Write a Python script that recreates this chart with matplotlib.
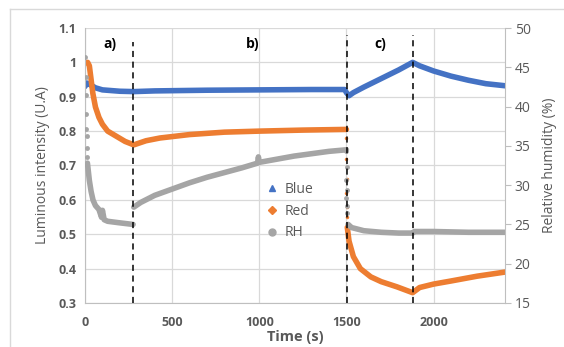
import numpy as np
import matplotlib
matplotlib.use("Agg")
import matplotlib.pyplot as plt
from matplotlib.lines import Line2D

plt.rcParams['font.family'] = ['Open Sans', 'DejaVu Sans']

# Blue (left axis)
blue_t = [0, 10, 30, 60, 100, 200, 280, 400, 700, 1000, 1300, 1490, 1500, 1515, 1540, 1600,
          1700, 1800, 1880, 1920, 2000, 2100, 2200, 2300, 2410]
blue_v = [0.930, 0.940, 0.935, 0.926, 0.920, 0.916, 0.915, 0.917, 0.919, 0.920, 0.921, 0.921,
          0.912, 0.903, 0.912, 0.928, 0.953, 0.978, 1.000, 0.990, 0.975, 0.960, 0.948, 0.938, 0.932]

# Red (left axis), NaN splits the two segments
red_t = [15, 25, 35, 45, 60, 80, 100, 130, 180, 230, 280, 350, 430, 600, 800, 1000, 1250, 1500,
         np.nan, 1505, 1515, 1540, 1580, 1640, 1700, 1790, 1880, 1920, 2000, 2100, 2250, 2410]
red_v = [1.000, 0.990, 0.950, 0.910, 0.870, 0.840, 0.820, 0.800, 0.785, 0.770, 0.760, 0.772,
         0.780, 0.790, 0.797, 0.800, 0.803, 0.805,
         np.nan, 0.520, 0.480, 0.435, 0.400, 0.376, 0.362, 0.347, 0.330, 0.345, 0.355, 0.364,
         0.378, 0.390]
red_jump_t = [1500, 1500, 1502, 1500, 1503, 1501]
red_jump_v = [0.78, 0.72, 0.66, 0.62, 0.58, 0.55]

# RH (right axis, %)
rh_t = [14, 25, 35, 46, 60, 80, 95, 100, 110, 130, 200, 276, np.nan,
        280, 320, 400, 500, 600, 700, 800, 900, 990, 995, 1000, 1100, 1200, 1300, 1400, 1500,
        np.nan, 1510, 1530, 1600, 1700, 1800, 1880, 1890, 2000, 2200, 2410]
rh_v = [32.8, 30.6, 29.2, 28.1, 27.4, 26.9, 25.9, 26.8, 25.6, 25.4, 25.2, 25.0, np.nan,
        27.2, 27.8, 28.7, 29.5, 30.3, 31.0, 31.6, 32.2, 32.8, 33.6, 32.9, 33.3, 33.7, 34.0,
        34.3, 34.5,
        np.nan, 25.0, 24.6, 24.2, 24.0, 23.9, 23.9, 24.1, 24.1, 24.0, 24.0]
rh_jump_t = [0, 3, 5, 7, 8, 9, 10, 11, 12, 1500, 1501, 1500, 1502, 1500, 1501, 1503]
rh_jump_v = [46.3, 43.8, 41.5, 39.1, 37.2, 36.2, 34.7, 33.6, 32.8, 34.3, 32.3, 30.7, 29.4,
             28.4, 27.3, 26.5]

vlines_t = [277, 1505, 1880]
vlines_top = [0.949, 0.975, 0.975]
phase_labels = ['a)', 'b)', 'c)']
phase_x = [145, 960, 1695]

c_blue = '#4472C4'
c_red = '#ED7D31'
c_gray = '#A5A5A5'
c_txt = '#595959'

fig = plt.figure(figsize=(5.64, 3.47), dpi=100)
ax1 = fig.add_axes([85/564, 1-303/347, 420/564, 275/347])
ax2 = ax1.twinx()

ax1.plot(blue_t, blue_v, color=c_blue, lw=4, solid_capstyle='round', solid_joinstyle='round')
ax1.plot(red_t, red_v, color=c_red, lw=4, solid_capstyle='round', solid_joinstyle='round')
ax1.plot(red_jump_t, red_jump_v, 'o', color=c_red, ms=2.5, mec='none')
ax2.plot(rh_t, rh_v, color=c_gray, lw=4, solid_capstyle='round', solid_joinstyle='round')
ax2.plot(rh_jump_t, rh_jump_v, 'o', color=c_gray, ms=3.5, mec='none')

for x, top in zip(vlines_t, vlines_top):
    ax2.axvline(x, ymin=0, ymax=top, color='black', lw=1.1, ls=(0, (4, 3)))
for x, s in zip(phase_x, phase_labels):
    ax1.text(x, 1.053, s, fontsize=10, fontweight='bold', ha='center', va='center')

ax1.set_xlim(0, 2410)
ax1.set_ylim(0.3, 1.1)
ax2.set_ylim(15, 50)
ax1.set_xticks([0, 500, 1000, 1500, 2000])
ax1.set_yticks(np.arange(0.3, 1.11, 0.1))
ax1.set_yticklabels(['0.3', '0.4', '0.5', '0.6', '0.7', '0.8', '0.9', '1', '1.1'])
ax2.set_yticks(range(15, 51, 5))

ax1.grid(True, color='#D9D9D9', lw=0.9)
ax1.set_axisbelow(True)
for ax in (ax1, ax2):
    for sp in ax.spines.values():
        sp.set_visible(False)
ax1.spines['left'].set_visible(True)
ax1.spines['left'].set_color('#BFBFBF')
ax1.spines['bottom'].set_visible(True)
ax1.spines['bottom'].set_color('#BFBFBF')
ax2.spines['right'].set_visible(True)
ax2.spines['right'].set_color('#BFBFBF')

ax1.tick_params(axis='x', length=0, labelcolor=c_txt, labelsize=9, pad=9)
ax1.tick_params(axis='y', length=0, labelcolor=c_txt, labelsize=9, pad=6)
ax2.tick_params(axis='y', length=4, color='#BFBFBF', labelcolor=c_txt, labelsize=10, pad=3)
for lab in ax1.get_xticklabels() + ax1.get_yticklabels():
    lab.set_fontweight('bold')

ax1.set_ylabel('Luminous intensity (U.A)', color=c_txt, fontsize=10, labelpad=6)
ax2.set_ylabel('Relative humidity (%)', color=c_txt, fontsize=10, labelpad=8)
ax1.set_xlabel('Time (s)', color=c_txt, fontsize=10.5, fontweight='bold', labelpad=1)

handles = [Line2D([], [], marker='^', color=c_blue, ls='none', ms=5),
           Line2D([], [], marker='D', color=c_red, ls='none', ms=4),
           Line2D([], [], marker='o', color=c_gray, ls='none', ms=5)]
leg = ax2.legend(handles, ['Blue', 'Red', 'RH'], loc='center',
                 bbox_to_anchor=((290 - 85) / 420, (303 - 211) / 275),
                 frameon=False, fontsize=10, handlelength=0.8, handletextpad=0.5,
                 labelspacing=0.5, labelcolor=c_txt)

fig.add_artist(Line2D([10/564, 10/564], [0, 1-9/347], color='#D9D9D9', lw=1))
fig.add_artist(Line2D([10/564, 1], [1-9/347, 1-9/347], color='#D9D9D9', lw=1))

fig.savefig('out.png', dpi=100)
